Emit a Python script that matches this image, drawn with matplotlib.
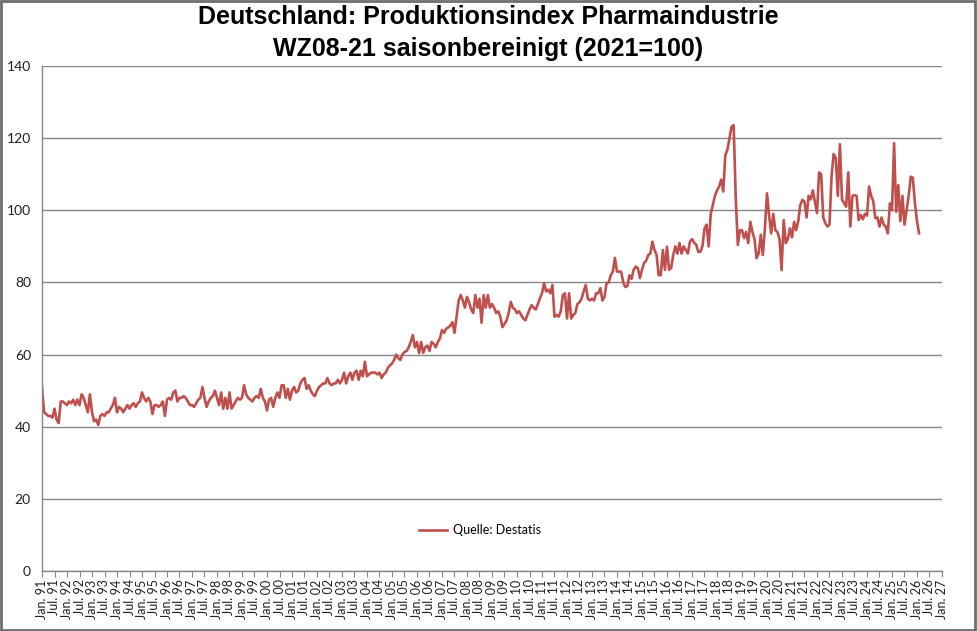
import matplotlib
matplotlib.use("Agg")
import matplotlib.pyplot as plt
from matplotlib.patches import Rectangle
import numpy as np

title = "Deutschland: Produktionsindex Pharmaindustrie\nWZ08-21 saisonbereinigt (2021=100)"
series_label = "Quelle: Destatis"
start_year = 1991

# Monthly values, one list per year (Jan..Dec)
y1991 = [51, 44, 43.5, 43, 43, 42.5, 45, 42, 41, 47, 47, 46.5]
y1992 = [46, 47, 46.5, 47.5, 46, 47.5, 46, 49, 48, 46, 44, 49]
y1993 = [44, 41.5, 42, 40.5, 43, 43.5, 43, 44, 44, 45, 46, 48]
y1994 = [44, 45.5, 45, 44, 45, 46, 45, 46, 46.5, 45.5, 46.5, 47]
y1995 = [49.5, 48, 47, 48, 47, 43.5, 46, 46, 45.5, 46, 47, 43]
y1996 = [47.5, 48, 47.5, 49.5, 50, 47, 48, 48, 48.5, 48, 47, 46]
y1997 = [46, 45.5, 46.5, 47.5, 48, 51, 48, 45.5, 47, 48, 48.5, 50]
y1998 = [48, 46, 49.5, 45, 48, 45, 49.5, 45, 46, 47, 48, 47.5]
y1999 = [48, 51.5, 49, 48, 47.5, 47, 48, 48.5, 48, 50.5, 48, 47]
y2000 = [44.5, 47.5, 48, 45.5, 48, 49.5, 48, 51.5, 51.5, 48, 50.5, 47.5]
y2001 = [50, 51, 49.5, 50, 52, 53, 53.5, 50.5, 51.5, 50, 49, 48.5]
y2002 = [50, 51, 51.5, 52, 52, 53.5, 52, 51.5, 52, 52, 53, 52]
y2003 = [53, 55, 52, 54, 55, 53, 55, 55.5, 53, 55.5, 54, 58]
y2004 = [54, 54.5, 55, 55, 55, 54.5, 55, 53.5, 54.5, 55, 56.3, 57]
y2005 = [57.5, 58.5, 60, 59, 58.5, 60, 60.7, 61, 62, 63.5, 65.4, 62]
y2006 = [63.5, 60.4, 63.5, 60.5, 62, 62.5, 61, 63.5, 63, 62, 63.5, 64.5]
y2007 = [66.8, 66, 67.2, 67.5, 68, 69, 66, 70.4, 75, 76.5, 75, 73]
y2008 = [76, 74.5, 72.5, 71.5, 76.5, 73, 75.5, 68.8, 76.5, 73, 76.5, 73]
y2009 = [74, 73, 71.5, 72, 70.5, 67.6, 68.5, 69.5, 71.5, 74.6, 73, 72.5]
y2010 = [71.5, 72, 71, 70, 69.5, 71, 72.5, 73.7, 73, 72.5, 74, 75.6]
y2011 = [77, 79.8, 77.5, 78, 77, 79.3, 70.5, 71, 70.5, 72, 76.5, 77]
y2012 = [70, 77, 70, 71, 71.5, 74, 74.5, 75.5, 77.5, 79.3, 75.5, 75]
y2013 = [75.5, 75, 77, 77, 78.4, 75, 76, 79.8, 80, 82, 83, 86.8]
y2014 = [83, 83, 83, 80, 78.7, 79, 82, 81, 83.5, 84.4, 84, 81.2]
y2015 = [83.5, 85.4, 86, 87.6, 88, 91.3, 89, 87.6, 82, 82, 89, 83.5]
y2016 = [89.9, 83.5, 84, 87.6, 90, 88, 90.9, 88, 90, 89, 88, 91.3]
y2017 = [92, 91, 90.5, 88.5, 88.5, 90, 95, 96, 90, 99, 101.5, 104]
y2018 = [105.5, 106.6, 108.5, 105.2, 115.3, 116.8, 120, 123.2, 123.6, 103.3, 90.4, 94.5]
y2019 = [94.5, 92.3, 94, 90.9, 96.8, 94, 92, 86.7, 88, 93.2, 87.6, 95]
y2020 = [104.7, 98.7, 93.6, 99, 94.5, 94, 92, 83.4, 97.3, 90.9, 92, 95]
y2021 = [92.5, 96.8, 94.5, 97, 101.5, 102.9, 102.4, 98, 104, 103, 105.5, 102.4]
y2022 = [99.2, 110.5, 110, 98, 96.4, 95.5, 96, 109.6, 115.6, 114.5, 104, 118.3]
y2023 = [103, 102, 101, 110.5, 95.5, 104, 104.2, 104, 97.3, 98.7, 97.5, 99]
y2024 = [98.5, 106.6, 104, 102.5, 97.8, 98, 95.5, 98, 96, 95.5, 93.6, 101.9]
y2025 = [100, 118.6, 99.6, 107, 97, 104, 96, 100, 104, 109.3, 109, 102]
y2026 = [97, 93.6]

values = (y1991 + y1992 + y1993 + y1994 + y1995 + y1996 + y1997 + y1998 + y1999 +
          y2000 + y2001 + y2002 + y2003 + y2004 + y2005 + y2006 + y2007 + y2008 +
          y2009 + y2010 + y2011 + y2012 + y2013 + y2014 + y2015 + y2016 + y2017 +
          y2018 + y2019 + y2020 + y2021 + y2022 + y2023 + y2024 + y2025 + y2026)
months = np.arange(len(values))

# tick labels every 6 months, Jan. 91 .. Jan. 27
tick_pos = np.arange(0, 433, 6)
tick_labels = [("Jan." if p % 12 == 0 else "Jul.") + " %02d" % ((start_year + p // 12) % 100)
               for p in tick_pos]
y_ticks = [0, 20, 40, 60, 80, 100, 120, 140]

W, H = 977, 631
fig = plt.figure(figsize=(W / 100, H / 100), dpi=100)
fig.patch.set_facecolor("white")

left, right, top, bottom = 42, 942, 66, 571
ax = fig.add_axes([left / W, 1 - bottom / H, (right - left) / W, (bottom - top) / H])

ax.plot(months, values, color="#C0504D", lw=1.9, label=series_label, solid_joinstyle="round")

ax.set_xlim(0, 432)
ax.set_ylim(0, 140)
ax.set_yticks(y_ticks)
ax.set_yticklabels([str(v) for v in y_ticks], fontsize=10, family="Lato", color="#202020")
ax.set_xticks(tick_pos)
ax.set_xticklabels(tick_labels, rotation=90, fontsize=9, family="Lato", color="#202020")
ax.tick_params(axis="x", direction="out", length=4, color="#868686", pad=2)
ax.tick_params(axis="y", length=0, pad=8)

ax.grid(axis="y", color="#868686", lw=1.0)
ax.set_axisbelow(True)
for s in ["top", "right"]:
    ax.spines[s].set_visible(False)
for s in ["left", "bottom"]:
    ax.spines[s].set_color("#868686")
    ax.spines[s].set_linewidth(1.0)

leg = ax.legend(loc="center", bbox_to_anchor=((480 - left) / (right - left), (bottom - 530) / (bottom - top)),
                frameon=False, prop={"family": "Lato", "size": 9}, handlelength=2.2, handletextpad=0.5)

fig.text(0.5, 1 - 33 / H, title, ha="center", va="center", fontsize=18, fontweight="bold",
         family="Liberation Sans", linespacing=1.4)

fig.patches.append(Rectangle((0.001, 0.002), 0.997, 0.996, transform=fig.transFigure,
                             fill=False, edgecolor="#6e6e6e", lw=2.0))

fig.savefig("out.png", dpi=100)
